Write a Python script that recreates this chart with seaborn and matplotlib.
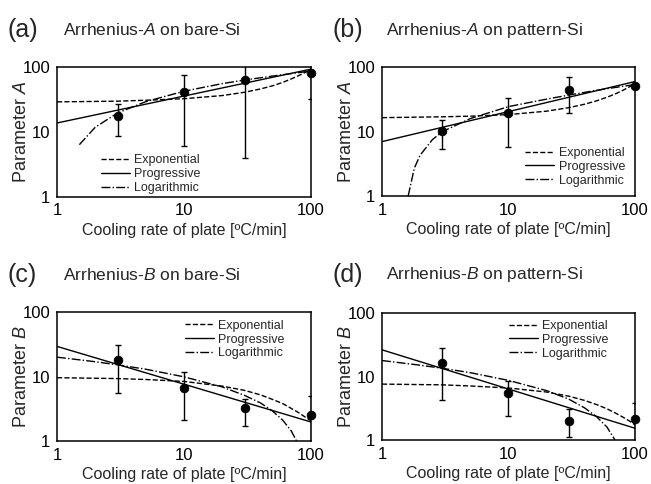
import numpy as np
import pandas as pd
import matplotlib
matplotlib.use("Agg")
import matplotlib.pyplot as plt
import seaborn as sns

# ---------------- data ----------------
rate = [3, 10, 30, 100]

# panel (a): Arrhenius-A on bare-Si
a_mean = [17.7, 40.6, 61.5, 79]
a_low = [8.7, 6.1, 3.9, 32]
a_high = [26.8, 76, 130, 126]
a_exp_x = [1, 3, 5, 10, 20, 30, 40, 50, 60, 70, 80, 90, 100]
a_exp_y = [28.8, 29.5, 30.5, 32.2, 36, 40.5, 45.5, 51, 57.5, 65, 73, 81.5, 91]
a_pro_x = [1, 100]
a_pro_y = [13.6, 92]
a_log_x = [1.5, 2, 3, 5, 10, 20, 30, 50, 70, 100]
a_log_y = [6.3, 11.7, 19.4, 29, 42, 55, 62.5, 72, 78.5, 86]

# panel (b): Arrhenius-A on pattern-Si
b_mean = [10.4, 19.3, 44.4, 51]
b_low = [5.4, 5.8, 19.4, 48]
b_high = [15.2, 33, 70.7, 54]
b_exp_x = [1, 3, 5, 10, 20, 30, 40, 50, 60, 70, 80, 90, 100]
b_exp_y = [16.5, 17, 17.4, 18.4, 20.8, 23.6, 26.7, 30.2, 34.2, 38.6, 43.7, 49.4, 56]
b_pro_x = [1, 100]
b_pro_y = [7.0, 60]
b_log_x = [1.61, 1.8, 2.0, 2.5, 3, 5, 10, 20, 30, 50, 100]
b_log_y = [1.0, 2.7, 4.3, 7.5, 10, 16, 24.5, 32, 37, 44, 54]

# panel (c): Arrhenius-B on bare-Si
c_mean = [17.8, 6.7, 3.2, 2.53]
c_low = [5.6, 2.09, 1.73, 0.06]
c_high = [31.2, 11.7, 4.5, 5.0]
c_exp_x = [1, 3, 5, 10, 20, 30, 40, 50, 60, 70, 80, 90, 100]
c_exp_y = [9.6, 9.3, 9.0, 8.4, 7.1, 6.1, 5.2, 4.4, 3.8, 3.2, 2.75, 2.35, 2.05]
c_pro_x = [1, 100]
c_pro_y = [29.4, 1.97]
c_log_x = [1, 2, 3, 5, 10, 20, 30, 40, 50, 60, 70, 77]
c_log_y = [20, 17, 15.2, 13, 9.9, 6.9, 5.1, 3.9, 2.9, 2.1, 1.43, 1.0]

# panel (d): Arrhenius-B on pattern-Si
d_mean = [16.2, 5.6, 2.0, 2.15]
d_low = [4.3, 2.42, 1.1, 0.47]
d_high = [28.7, 8.5, 3.05, 3.83]
d_exp_x = [1, 3, 5, 10, 20, 30, 40, 50, 60, 70, 80, 90, 100]
d_exp_y = [7.6, 7.4, 7.1, 6.6, 5.7, 4.9, 4.2, 3.6, 3.1, 2.66, 2.3, 2.0, 1.73]
d_pro_x = [1, 100]
d_pro_y = [26.4, 1.53]
d_log_x = [1, 2, 3, 5, 10, 20, 30, 40, 50, 60, 69.5]
d_log_y = [17.9, 15.1, 13.5, 11.5, 8.7, 6.0, 4.4, 3.2, 2.3, 1.6, 1.0]

panel_letters = ["(a)", "(b)", "(c)", "(d)"]
panel_titles = ["Arrhenius-$A$ on bare-Si", "Arrhenius-$A$ on pattern-Si",
                "Arrhenius-$B$ on bare-Si", "Arrhenius-$B$ on pattern-Si"]
ylabels = ["Parameter $A$", "Parameter $A$", "Parameter $B$", "Parameter $B$"]
xlabel = "Cooling rate of plate [ºC/min]"
ticks = [1, 10, 100]
tick_labels = ["1", "10", "100"]
series_names = ["Exponential", "Progressive", "Logarithmic"]

# ---------------- style ----------------
sns.set_style("white")
plt.rcParams["font.family"] = ["Liberation Sans", "DejaVu Sans"]
plt.rcParams["mathtext.fontset"] = "custom"
plt.rcParams["mathtext.rm"] = "Liberation Sans"
plt.rcParams["mathtext.it"] = "Liberation Sans:italic"
plt.rcParams["axes.edgecolor"] = "black"
plt.rcParams["axes.linewidth"] = 1.1

fig = plt.figure(figsize=(6.51, 4.84), dpi=100)

positions = [
    [0.0876, 0.594, 0.390, 0.268],
    [0.5868, 0.595, 0.3886, 0.266],
    [0.0876, 0.089, 0.390, 0.266],
    [0.5868, 0.091, 0.3886, 0.262],
]
letter_xy = [(0.012, 0.937), (0.510, 0.937), (0.012, 0.432), (0.510, 0.432)]
title_xy = [(0.097, 0.937), (0.593, 0.937), (0.097, 0.432), (0.593, 0.432)]

panels = [
    (a_mean, a_low, a_high, a_exp_x, a_exp_y, a_pro_x, a_pro_y, a_log_x, a_log_y),
    (b_mean, b_low, b_high, b_exp_x, b_exp_y, b_pro_x, b_pro_y, b_log_x, b_log_y),
    (c_mean, c_low, c_high, c_exp_x, c_exp_y, c_pro_x, c_pro_y, c_log_x, c_log_y),
    (d_mean, d_low, d_high, d_exp_x, d_exp_y, d_pro_x, d_pro_y, d_log_x, d_log_y),
]

legend_locs = [
    dict(loc="lower left", bbox_to_anchor=(0.14, -0.05)),
    dict(loc="lower right", bbox_to_anchor=(0.995, 0.005)),
    dict(loc="upper right", bbox_to_anchor=(0.93, 1.01)),
    dict(loc="upper right", bbox_to_anchor=(0.93, 1.015)),
]

styles = ["--", "-", "-."]

for i, (pos, pdata) in enumerate(zip(positions, panels)):
    mean, low, high, ex, ey, px, py, lx, ly = pdata
    ax = fig.add_axes(pos)
    ax.set_xscale("log")
    ax.set_yscale("log")
    curves = [(ex, ey), (px, py), (lx, ly)]
    for (cx, cy), name, ls in zip(curves, series_names, styles):
        df = pd.DataFrame({"x": cx, "y": cy})
        sns.lineplot(data=df, x="x", y="y", ax=ax, color="black", lw=1.0,
                     linestyle=ls, label=name, sort=False, estimator=None)
    m = np.array(mean)
    yerr = np.vstack([m - np.array(low), np.array(high) - m])
    ax.errorbar(rate, mean, yerr=yerr, fmt="none", ecolor="black",
                elinewidth=1.0, capsize=2, capthick=1.0, clip_on=True, zorder=3)
    sns.scatterplot(x=rate, y=mean, ax=ax, color="black", s=40,
                    edgecolor="black", zorder=4, clip_on=False)
    ax.set_xlim(1, 100)
    ax.set_ylim(1, 100)
    ax.set_xticks(ticks)
    ax.set_xticklabels(tick_labels)
    ax.set_yticks(ticks)
    ax.set_yticklabels(tick_labels)
    ax.minorticks_off()
    ax.tick_params(axis="both", which="major", direction="in", length=3,
                   width=1.0, labelsize=12, pad=5, colors="black")
    ax.set_xlabel(xlabel, fontsize=11.5, labelpad=3)
    ax.set_ylabel(ylabels[i], fontsize=13)
    ax.yaxis.set_label_coords(-0.105, 0.5)
    for sp in ax.spines.values():
        sp.set_visible(True)
        sp.set_color("black")
    leg = ax.legend(frameon=False, fontsize=9, handlelength=2.3,
                    handletextpad=0.35, labelspacing=0.15, borderaxespad=0.3,
                    **legend_locs[i])
    for line in leg.get_lines():
        line.set_linewidth(1.0)
    fig.text(letter_xy[i][0], letter_xy[i][1], panel_letters[i], fontsize=18,
             va="center", ha="left")
    fig.text(title_xy[i][0], title_xy[i][1], panel_titles[i], fontsize=12.5,
             va="center", ha="left")

fig.savefig("out.png", dpi=100)
